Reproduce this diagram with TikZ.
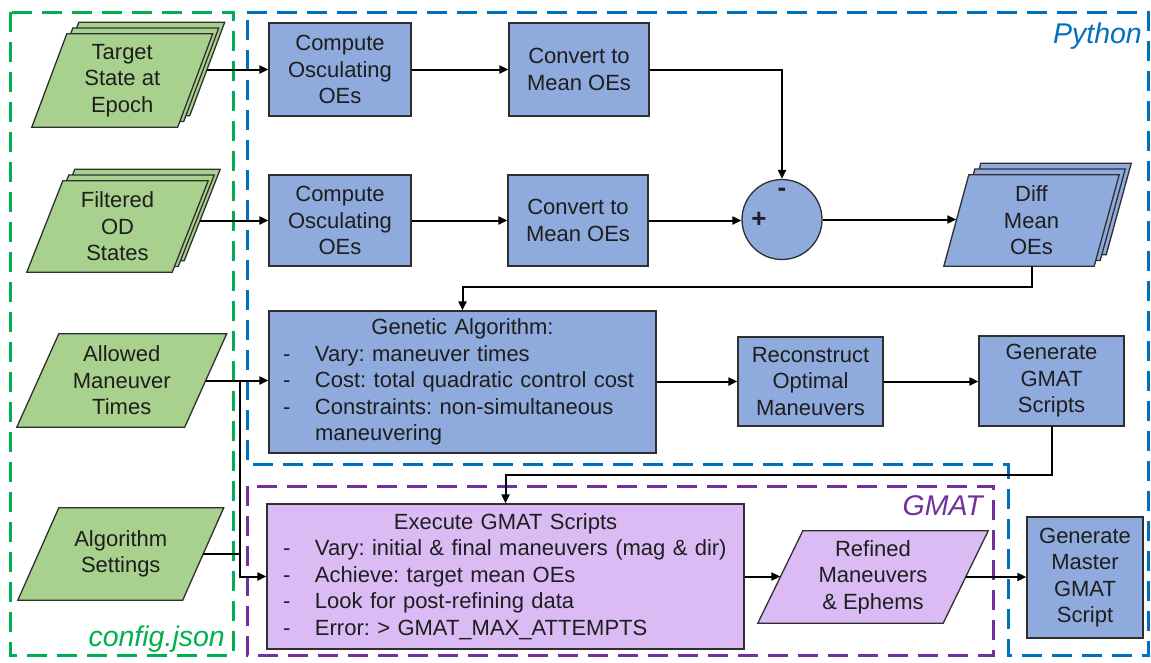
\documentclass[tikz,border=0pt]{standalone}
\usepackage{fontspec}
\setmainfont{Liberation Sans}
\usetikzlibrary{arrows.meta}
\definecolor{bfill}{HTML}{8FAADC}
\definecolor{gfill}{HTML}{A9D18E}
\definecolor{pfill}{HTML}{DABBF3}
\definecolor{bordercol}{HTML}{2F2F2F}
\definecolor{textcol}{HTML}{1E1E1E}
\definecolor{pyblue}{HTML}{0070C0}
\definecolor{cfggreen}{HTML}{00B050}
\definecolor{gmatpurple}{HTML}{7030A0}
\pgfdeclarelayer{bg}\pgfsetlayers{bg,main}
\frenchspacing
\newcommand\paral[4]{%
 \foreach \k in {#4}{%
  \pgfmathsetmacro\sx{6*\k}\pgfmathsetmacro\sy{5.75*\k}%
  \path[parashape, fill=#3]
   ([xshift=\sx pt-#2pt, yshift=\sy pt]#1.south west) --
   ([xshift=\sx pt-#2pt, yshift=\sy pt]#1.south east) --
   ([xshift=\sx pt+#2pt, yshift=\sy pt]#1.north east) --
   ([xshift=\sx pt+#2pt, yshift=\sy pt]#1.north west) -- cycle;}}
\begin{document}
\begin{tikzpicture}[x=1pt,y=-1pt,
  txt/.style={font=\fontsize{22}{26.5}\selectfont\frenchspacing, text=textcol, align=center, inner sep=0pt},
  box/.style={txt, draw=bordercol, line width=1.3pt, fill=bfill},
  pbox/.style={box, fill=pfill},
  para/.style={txt},
  sign/.style={txt, font=\fontsize{26}{28}\selectfont\bfseries},
  parashape/.style={draw=bordercol, line width=1.3pt},
  arr/.style={draw=black, line width=2pt, -{Triangle[length=9pt,width=8pt]}},
  conn/.style={draw=black, line width=2pt},
  reg/.style={line width=3pt, dash pattern=on 20pt off 10pt},
  lab/.style={font=\fontsize{28.5}{30}\selectfont\itshape, anchor=base east, inner sep=0pt}]
\useasboundingbox (0,0) rectangle (1151,662);
% regions
\draw[reg, cfggreen] (10,12) rectangle (233,655);
\draw[reg, pyblue] (247,12) -- (1148,12) -- (1148,655) -- (1008,655) -- (1008,464) -- (247,464) -- cycle;
\draw[reg, gmatpurple] (247,486) rectangle (993,655);
\node[lab, text=pyblue] (pylab) at (1142,43) {Python};
\node[lab, text=cfggreen] (cfglab) at (225,646) {config.json};
\node[lab, text=gmatpurple] (gmatlab) at (983,515) {GMAT};
% inputs (parallelograms)
\node[para, minimum width=145.5pt, minimum height=93pt] (tgt) at (122.25,80.5) {Target\\State at\\Epoch};
\node[para, minimum width=145pt, minimum height=91pt] (filt) at (117.5,226.5) {Filtered\\OD\\States};
\node[para, minimum width=167.5pt, minimum height=93pt] (amt) at (121.75,380.5) {Allowed\\Maneuver\\Times};
\node[para, minimum width=164.5pt, minimum height=92pt] (alg) at (120.75,554) {Algorithm\\Settings};
\node[para, minimum width=150pt, minimum height=91pt] (diff) at (1031.5,220.5) {Diff\\Mean\\OEs};
\node[para, minimum width=185pt, minimum height=92pt] (ref) at (873,577) {Refined\\Maneuvers\\\& Ephems};
\begin{pgfonlayer}{bg}
\paral{tgt}{17.5}{gfill}{2,1,0}
\paral{filt}{18}{gfill}{2,1,0}
\paral{amt}{21}{gfill}{0}
\paral{alg}{20.5}{gfill}{0}
\paral{diff}{12.5}{bfill}{2,1,0}
\paral{ref}{22.5}{pfill}{0}
\end{pgfonlayer}
% process boxes
\node[box, minimum width=142pt, minimum height=93pt] (comp1) at (340,69.5) {Compute\\Osculating\\OEs};
\node[box, minimum width=142pt, minimum height=91pt] (comp2) at (340,220.5) {Compute\\Osculating\\OEs};
\node[box, minimum width=140pt, minimum height=93pt] (conv1) at (579,69.5) {Convert to\\Mean OEs};
\node[box, minimum width=140pt, minimum height=91pt] (conv2) at (578,220.5) {Convert to\\Mean OEs};
\node[box, circle, minimum size=80pt] (sum) at (782,219.5) {};
\node[sign] (plus) at (759,220) {+};
\node[sign] (minus) at (782,192) {-};
\node[box, align=left, text width=359pt, inner xsep=14pt, minimum height=142pt] (ga) at (462.5,382)
 {\makebox[359pt]{Genetic Algorithm:}\\
  \makebox[32pt][l]{-}Vary: maneuver times\\
  \makebox[32pt][l]{-}Cost: total quadratic control cost\\
  \makebox[32pt][l]{-}Constraints: non-simultaneous\\
  \hspace*{32pt}maneuvering};
\node[box, minimum width=145pt, minimum height=89pt] (rec) at (810.5,381.5) {Reconstruct\\Optimal\\Maneuvers};
\node[box, minimum width=145pt, minimum height=90pt] (gen) at (1051.5,381) {Generate\\GMAT\\Scripts};
\node[pbox, align=left, text width=445pt, inner xsep=16pt, minimum height=145pt] (exec) at (505.5,576.5)
 {\makebox[445pt]{Execute GMAT Scripts}\\
  \makebox[32pt][l]{-}Vary: initial \& final maneuvers (mag \& dir)\\
  \makebox[32pt][l]{-}Achieve: target mean OEs\\
  \makebox[32pt][l]{-}Look for post-refining data\\
  \makebox[32pt][l]{-}Error: > GMAT\_MAX\_ATTEMPTS};
\node[box, minimum width=116pt, minimum height=121pt] (master) at (1085,577.5) {Generate\\Master\\GMAT\\Script};
% connectors
\draw[arr] ([xshift=12pt]tgt.east |- comp1.west) -- (comp1.west);
\draw[arr] ([xshift=10pt]filt.east |- comp2.west) -- (comp2.west);
\draw[arr] (comp1.east) -- (conv1.west);
\draw[arr] (comp2.east) -- (conv2.west);
\draw[arr] (conv1.east) -| (sum.north);
\draw[arr] (conv2.east) -- (conv2.east -| sum.west);
\draw[arr] (sum.east) -- (sum.east -| diff.west);
\draw[arr] (diff.south) -- (diff.south |- 0,287) -| (ga.north);
\coordinate (j1) at (240,381);
\coordinate (j2) at (240,576.5);
\draw[arr] (amt.east) -- (amt.east -| ga.west);
\draw[conn] (alg.east) -- (alg.east -| j1);
\draw[arr] (j1) -- (j2) -- (exec.west);
\draw[arr] (ga.east |- rec.west) -- (rec.west);
\draw[arr] (rec.east) -- (rec.east -| gen.west);
\draw[arr] (gen.south) -- (gen.south |- 0,475) -| (exec.north);
\draw[arr] (exec.east) -- (exec.east -| ref.west);
\draw[arr] (ref.east) -- (ref.east -| master.west);
\end{tikzpicture}
\end{document}
